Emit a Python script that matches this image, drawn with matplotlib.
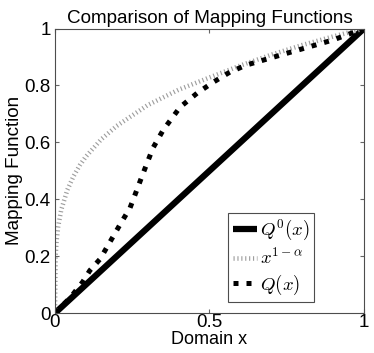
import matplotlib
matplotlib.use("Agg")
import matplotlib.pyplot as plt

plt.rcParams['font.family'] = ['Liberation Sans', 'DejaVu Sans']
plt.rcParams['mathtext.fontset'] = 'cm'

# Q^0(x) = x, straight diagonal
x_lin = [0.0, 1.0]
q0 = [0.0, 1.0]

# x^(1-alpha)
x_pow = [0.0, 0.002, 0.005, 0.01, 0.02, 0.04, 0.06, 0.08, 0.1, 0.15, 0.2,
         0.3, 0.4, 0.5, 0.6, 0.7, 0.8, 0.9, 1.0]
y_pow = [0.0, 0.20, 0.252, 0.302, 0.362, 0.433, 0.481, 0.519, 0.55, 0.611,
         0.658, 0.731, 0.785, 0.828, 0.870, 0.908, 0.942, 0.972, 1.0]

# Q(x)
x_q = [0.0, 0.05, 0.09, 0.113, 0.146, 0.178, 0.21, 0.243, 0.264, 0.283,
       0.317, 0.35, 0.405, 0.46, 0.51, 0.566, 0.62, 0.74, 0.90, 1.0]
y_q = [0.0, 0.055, 0.11, 0.15, 0.19, 0.25, 0.31, 0.37, 0.43, 0.485,
       0.58, 0.643, 0.724, 0.773, 0.81, 0.847, 0.872, 0.91, 0.96, 1.0]

fig = plt.figure(figsize=(3.74, 3.53), dpi=100)
ax = fig.add_axes([0.147, 0.113, 0.826, 0.806])

ax.plot(x_lin, q0, color='black', lw=4.5, solid_capstyle='butt', label=r'$Q^0(x)$')
ax.plot(x_pow, y_pow, color='0.62', lw=3.3, linestyle=(0, (0.25, 0.6)),
        label=r'$x^{1-\alpha}$')
ax.plot(x_q, y_q, color='black', lw=3.6, linestyle=(0, (1, 1.6)), label=r'$Q(x)$')

ax.set_xlim(0, 1)
ax.set_ylim(0, 1)
ax.set_xticks([0, 0.5, 1])
ax.set_xticklabels(['0', '0.5', '1'])
ax.set_yticks([0, 0.2, 0.4, 0.6, 0.8, 1])
ax.set_yticklabels(['0', '0.2', '0.4', '0.6', '0.8', '1'])
ax.tick_params(direction='in', length=3, top=True, right=True, labelsize=13.5,
               color='0.4')
ax.tick_params(axis='x', pad=1)
ax.tick_params(axis='y', pad=3)
for s in ax.spines.values():
    s.set_color('0.3')
    s.set_linewidth(0.8)

ax.set_title('Comparison of Mapping Functions', fontsize=13.6, pad=4)
ax.set_xlabel('Domain x', fontsize=13, labelpad=0)
ax.set_ylabel('Mapping Function', fontsize=13.6, labelpad=1)

leg = ax.legend(loc='lower right', bbox_to_anchor=(0.84, 0.04), borderaxespad=0,
                fontsize=13.5, handlelength=1.3, handletextpad=0.15, fancybox=False,
                framealpha=1, borderpad=0.25, labelspacing=0.25)
leg.get_frame().set_edgecolor('0.3')
leg.get_frame().set_linewidth(0.8)

fig.savefig('out.png', dpi=100)
